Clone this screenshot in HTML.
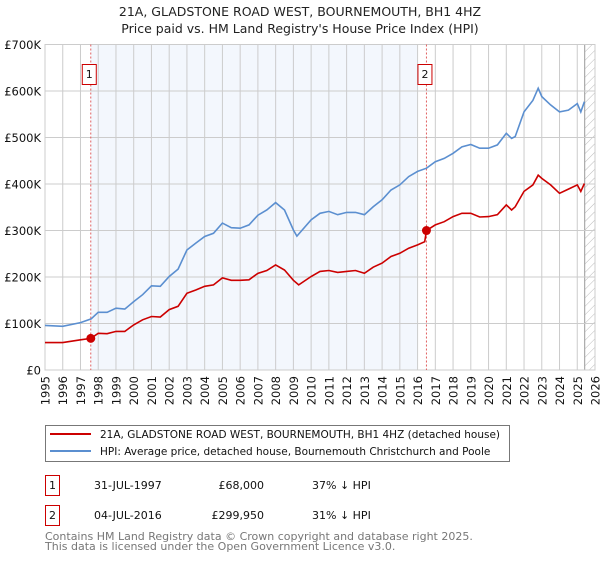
<!DOCTYPE html>
<html><head><meta charset="utf-8"><style>
body{margin:0;background:#fff;width:600px;height:560px;overflow:hidden;font-family:"DejaVu Sans","Liberation Sans",sans-serif}
svg text{font-family:"DejaVu Sans","Liberation Sans",sans-serif}
</style></head><body>
<svg id="chart" width="600" height="560" xmlns="http://www.w3.org/2000/svg">
<defs><pattern id="hatch" width="6" height="6" patternUnits="userSpaceOnUse" patternTransform="rotate(45)"><line x1="0" y1="0" x2="0" y2="6" stroke="#bbb" stroke-width="1"/></pattern></defs>
<text x="300" y="16" text-anchor="middle" font-size="12.5" fill="#222">21A, GLADSTONE ROAD WEST, BOURNEMOUTH, BH1 4HZ</text>
<text x="300" y="33" text-anchor="middle" font-size="12.5" fill="#222">Price paid vs. HM Land Registry's House Price Index (HPI)</text>
<g id="plot"></g>
<g>
<rect x="45.5" y="425.5" width="464" height="36" fill="#fff" stroke="#777"/>
<line x1="50" y1="434" x2="91" y2="434" stroke="#cc0000" stroke-width="2"/>
<text x="100" y="438" font-size="10.5" fill="#111">21A, GLADSTONE ROAD WEST, BOURNEMOUTH, BH1 4HZ (detached house)</text>
<line x1="50" y1="451" x2="91" y2="451" stroke="#5b8fd0" stroke-width="2"/>
<text x="100" y="455" font-size="10.5" fill="#111">HPI: Average price, detached house, Bournemouth Christchurch and Poole</text>
</g>
<g font-size="11" fill="#111">
<rect x="45.5" y="475.5" width="14" height="20" fill="none" stroke="#cc0000"/>
<text x="52.5" y="489" text-anchor="middle">1</text>
<text x="94" y="489">31-JUL-1997</text>
<text x="264" y="489" text-anchor="end">£68,000</text>
<text x="312" y="489">37% ↓ HPI</text>
<rect x="45.5" y="505.5" width="14" height="20" fill="none" stroke="#cc0000"/>
<text x="52.5" y="519" text-anchor="middle">2</text>
<text x="94" y="519">04-JUL-2016</text>
<text x="264" y="519" text-anchor="end">£299,950</text>
<text x="312" y="519">31% ↓ HPI</text>
</g>
<text x="45" y="540" font-size="11" fill="#777">Contains HM Land Registry data © Crown copyright and database right 2025.</text>
<text x="45" y="550" font-size="11" fill="#777">This data is licensed under the Open Government Licence v3.0.</text>
</svg>
<script>
const hpiYears=[1995,1996,1997,1997.6,1998,1998.5,1999,1999.5,2000,2000.5,2001,2001.5,2002,2002.5,2003,2003.5,2004,2004.5,2005,2005.5,2006,2006.5,2007,2007.5,2008,2008.5,2009,2009.2,2010,2010.5,2011,2011.5,2012,2012.5,2013,2013.5,2014,2014.5,2015,2015.5,2016,2016.5,2017,2017.5,2018,2018.5,2019,2019.5,2020,2020.5,2021,2021.3,2021.5,2022,2022.5,2022.8,2023,2023.5,2024,2024.5,2025,2025.2,2025.4];
const hpiValues=[96,94,102,110,124,124,133,131,147,162,181,180,201,217,258,273,287,294,316,306,305,312,333,344,360,344,301,288,323,337,341,334,339,339,334,351,366,387,398,416,427,434,448,455,466,480,485,477,477,484,509,498,502,555,580,606,588,570,555,559,573,555,577];
const propYears=[1995,1996,1997,1997.58,1998,1998.5,1999,1999.5,2000,2000.5,2001,2001.5,2002,2002.5,2003,2003.5,2004,2004.5,2005,2005.5,2006,2006.5,2007,2007.5,2008,2008.5,2009,2009.3,2010,2010.5,2011,2011.5,2012,2012.5,2013,2013.5,2014,2014.5,2015,2015.5,2016,2016.4,2016.5,2017,2017.5,2018,2018.5,2019,2019.5,2020,2020.5,2021,2021.3,2021.5,2022,2022.5,2022.8,2023,2023.5,2024,2024.5,2025,2025.2,2025.4];
const propValues=[59,59,65,68,79,78,83,83,97,108,115,114,130,137,165,172,180,183,198,193,193,194,208,214,226,215,193,183,201,212,214,210,212,214,208,221,230,244,251,262,269,276,300,312,319,330,337,337,329,330,334,355,344,351,384,398,419,412,398,380,389,398,384,401];
const saleYears=[1997.58,2016.5];
const saleValues=[68,299.95];
const saleLabels=["1","2"];
const yTicks=[0,100,200,300,400,500,600,700];
const yTickLabels=["£0","£100K","£200K","£300K","£400K","£500K","£600K","£700K"];
const xTicks=[];for(let y=1995;y<=2026;y++)xTicks.push(y);

const L=45,R=595,T=44.5,B=370,X0=1995,X1=2026;
const sx=v=>L+(v-X0)/(X1-X0)*(R-L);
const sy=v=>B-v/700*(B-T);
const NS="http://www.w3.org/2000/svg";
const g=document.getElementById('plot');
function mk(tag,attrs,parent){const e=document.createElementNS(NS,tag);for(const k in attrs)e.setAttribute(k,attrs[k]);(parent||g).appendChild(e);return e;}

const shade=mk('rect',{x:sx(saleYears[0]),y:T,width:sx(2016.0)-sx(saleYears[0]),height:B-T,fill:'#eef3fc',opacity:0.7});


const hatch=mk('rect',{x:sx(2025.42),y:T,width:R-sx(2025.42),height:B-T,fill:'url(#hatch)'});


mk('line',{x1:sx(2025.42),y1:T,x2:sx(2025.42),y2:B,stroke:'#999'});

xTicks.forEach(y=>{
  const ln=mk('line',{x1:sx(y),y1:T,x2:sx(y),y2:B,stroke:'#ccc'});
  
  
  const t=mk('text',{x:0,y:0,transform:`translate(${sx(y)+4.5},376) rotate(-90)`,'text-anchor':'end','font-size':11.5,fill:'#111'});
  t.textContent=y;
  
  
});
yTicks.forEach((v,i)=>{
  const ln=mk('line',{x1:L,y1:sy(v),x2:R,y2:sy(v),stroke:'#ccc'});
  
  
  const t=mk('text',{x:41,y:sy(v)+4.5,'text-anchor':'end','font-size':11.5,fill:'#111'});
  t.textContent=yTickLabels[i];
  
  
});
mk('rect',{x:L,y:T,width:R-L,height:B-T,fill:'none',stroke:'#ccc'});

saleYears.forEach((yr,i)=>{
  const ln=mk('line',{x1:sx(yr),y1:T,x2:sx(yr),y2:B,stroke:'#e06060','stroke-dasharray':'2,2'});
  
  
  const bx=mk('rect',{x:sx(yr)-8-0.5,y:64.5,width:14,height:20,fill:'#fff',stroke:'#cc0000'});
  
  
  const t=mk('text',{x:sx(yr)-1.5,y:78,'text-anchor':'middle','font-size':11,fill:'#111'});
  t.textContent=saleLabels[i];
});

function path(xs,vs){return xs.map((x,i)=>(i?'L':'M')+sx(x).toFixed(1)+','+sy(vs[i]).toFixed(1)).join('');}
const hp=mk('path',{d:path(hpiYears,hpiValues),fill:'none',stroke:'#5b8fd0','stroke-width':1.6});


const pp=mk('path',{d:path(propYears,propValues),fill:'none',stroke:'#cc0000','stroke-width':1.6});


saleYears.forEach((yr,i)=>{
  const c=mk('circle',{cx:sx(yr),cy:sy(saleValues[i]),r:4.5,fill:'#cc0000'});
  
  
});
</script>
</body></html>
